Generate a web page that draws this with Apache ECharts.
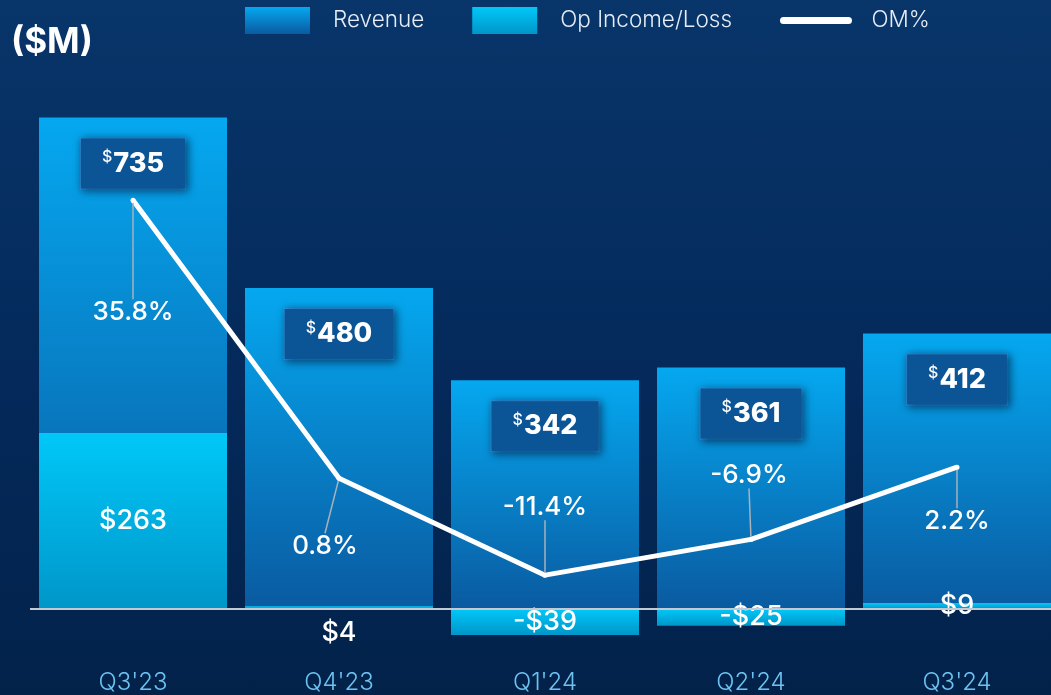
<!DOCTYPE html>
<html>
<head>
<meta charset="utf-8">
<script src="https://cdn.jsdelivr.net/npm/echarts@6/dist/echarts.min.js"></script>
<style>
  html, body { margin: 0; padding: 0; }
  body { background: linear-gradient(180deg, #08356a 0%, #04295a 55%, #02224a 100%); }
  #chart { width: 1051px; height: 695px; }
</style>
</head>
<body>
<div id="chart"></div>
<script>
const quarters = ["Q3'23", "Q4'23", "Q1'24", "Q2'24", "Q3'24"]
const revenue = [735, 480, 342, 361, 412]
const opIncome = [263, 4, -39, -25, 9]
const omPct = [35.8, 0.8, -11.4, -6.9, 2.2]

// where each OM% label sits relative to its point
const omLabelShift = [[0, 112], [-14, 68], [0, -68], [-2, -64], [0, 54]]

const font = 'Inter, Open Sans, sans-serif'
const chart = echarts.init(document.getElementById('chart'))

function money (v) {
  return v < 0 ? '-$' + Math.abs(v) : '$' + v
}

chart.setOption({
  backgroundColor: 'transparent',
  textStyle: { fontFamily: font },
  title: {
    text: '($M)',
    left: 11,
    top: 25,
    padding: 0,
    textStyle: { color: '#fff', fontSize: 35, fontWeight: 'bold', fontFamily: font }
  },
  legend: {
    left: 245,
    top: 7,
    padding: 0,
    itemWidth: 65,
    itemHeight: 27,
    itemGap: 48,
    icon: 'rect',
    selectedMode: false,
    textStyle: { color: '#e6edf6', fontSize: 22.5, fontWeight: 300, padding: [0, 0, 0, 18] },
    data: [
      'Revenue',
      'Op Income/Loss',
      { name: 'OM%', icon: 'inherit', itemStyle: { opacity: 0 }, lineStyle: { width: 7, cap: 'round', color: '#fff' } }
    ]
  },
  // the last bar runs past the right edge, so the grid does too
  grid: { left: 30, width: 1030, top: 74, bottom: 32.5, outerBoundsMode: 'none' },
  xAxis: {
    type: 'category',
    data: quarters,
    position: 'bottom',
    axisLine: { show: false, onZero: false },
    axisTick: { show: false },
    axisLabel: { color: '#6cc3f2', fontSize: 24, margin: 8, fontWeight: 300 }
  },
  yAxis: [
    { type: 'value', min: -80, max: 800, show: false, splitLine: { show: false } },
    { type: 'value', min: -22.4, max: 51.7, show: false, splitLine: { show: false } }
  ],
  series: [
    {
      name: 'Revenue',
      type: 'bar',
      barWidth: 188,
      barGap: '-100%',
      data: revenue,
      itemStyle: {
        color: new echarts.graphic.LinearGradient(0, 0, 0, 1, [
          { offset: 0, color: '#05a8f0' },
          { offset: 1, color: '#0a5aa0' }
        ])
      },
      label: {
        show: true,
        position: 'insideTop',
        distance: 21,
        formatter: '{s|$}{v|{c}}',
        backgroundColor: '#0b5596',
        borderColor: '#2f8fd8',
        borderWidth: 1,
        padding: [11, 21, 11, 21],
        shadowBlur: 8,
        shadowColor: 'rgba(0, 15, 45, 0.6)',
        shadowOffsetX: 2,
        shadowOffsetY: 2,
        rich: {
          s: { color: '#fff', fontSize: 16, fontWeight: 500, lineHeight: 28, verticalAlign: 'top', padding: [0, 1, 0, 0] },
          v: { color: '#fff', fontSize: 27, fontWeight: 800, lineHeight: 28 }
        }
      }
    },
    {
      name: 'Op Income/Loss',
      type: 'bar',
      barWidth: 188,
      data: opIncome.map(v => (v > 0 && v < 6)
        // a very thin bar: put the figure under the axis
        ? { value: v, label: { position: 'bottom', distance: 10 } }
        : v),
      itemStyle: {
        color: new echarts.graphic.LinearGradient(0, 0, 0, 1, [
          { offset: 0, color: '#00c8f8' },
          { offset: 1, color: '#0096c9' }
        ])
      },
      label: {
        show: true,
        position: 'inside',
        color: '#fff',
        fontSize: 27,
        fontWeight: 500,
        formatter: p => money(p.value)
      },
      markLine: {
        silent: true,
        symbol: 'none',
        data: [{ yAxis: 0 }],
        label: { show: false },
        lineStyle: { color: '#c3cad3', width: 2, type: 'solid' }
      }
    },
    {
      name: 'OM%',
      type: 'line',
      yAxisIndex: 1,
      data: omPct,
      z: 5,
      symbol: 'circle',
      symbolSize: 5,
      itemStyle: { color: '#fff' },
      lineStyle: { color: '#fff', width: 5 },
      label: {
        show: true,
        position: 'inside',
        color: '#fff',
        fontSize: 26,
        fontWeight: 500,
        padding: [9, 2, 9, 2],
        formatter: p => p.value + '%'
      },
      labelLine: {
        show: true,
        lineStyle: { color: '#a9b1ba', width: 1.5 }
      },
      labelLayout: p => ({ dx: omLabelShift[p.dataIndex][0], dy: omLabelShift[p.dataIndex][1] })
    }
  ]
})
</script>
</body>
</html>
